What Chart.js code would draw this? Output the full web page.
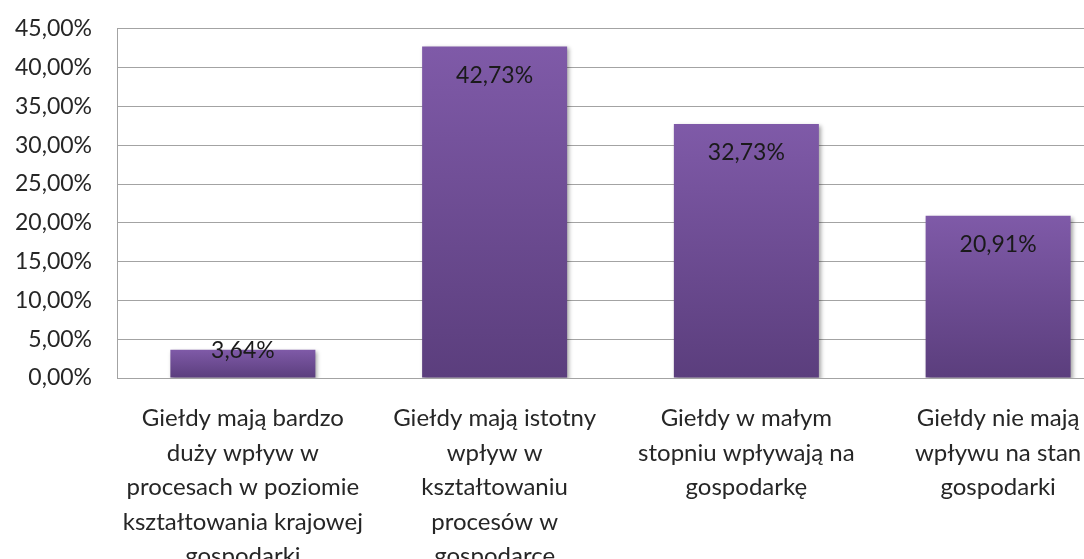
<!DOCTYPE html>
<html>
<head>
<meta charset="utf-8">
<script src="https://cdn.jsdelivr.net/npm/chart.js@4"></script>
<style>
    html, body { margin: 0; padding: 0; background: #fff; overflow: hidden; }
    #wrap { width: 1130px; height: 620px; margin-top: -10px; }
</style>
</head>
<body>
<div id="wrap"><canvas id="chart"></canvas></div>
<script>
// Categories (x axis), one array per wrapped label
const categories = [
    ['Giełdy mają bardzo', 'duży wpływ w', 'procesach w poziomie', 'kształtowania krajowej', 'gospodarki'],
    ['Giełdy mają istotny', 'wpływ w', 'kształtowaniu', 'procesów w', 'gospodarce'],
    ['Giełdy w małym', 'stopniu wpływają na', 'gospodarkę'],
    ['Giełdy nie mają', 'wpływu na stan', 'gospodarki']
];
// Share of answers in percent
const shares = [3.64, 42.73, 32.73, 20.91];
// Y axis range
const yMin = 0;
const yMax = 45;
const yStep = 5;

const FONT = 'Lato, "Liberation Sans", sans-serif';
const TEXT = '#262626';

function pl(v) {
    return v.toFixed(2).replace('.', ',') + '%';
}

// Purple gradient, light at the top of each bar and darker at its base
function barFill(ctx) {
    const chart = ctx.chart;
    if (!chart.chartArea || ctx.type !== 'data') return '#6e4f96';
    const y = chart.scales.y;
    const top = y.getPixelForValue(ctx.raw);
    const base = y.getPixelForValue(0);
    const g = chart.ctx.createLinearGradient(0, top, 0, base);
    g.addColorStop(0, '#7f5aa8');
    g.addColorStop(1, '#5b3e7d');
    return g;
}

// Soft shadow behind the bars
const barShadow = {
    id: 'barShadow',
    beforeDatasetsDraw(chart) {
        const c = chart.ctx;
        c.save();
        c.shadowColor = 'rgba(0,0,0,0.35)';
        c.shadowBlur = 4;
        c.shadowOffsetX = 2;
        c.shadowOffsetY = 2;
    },
    afterDatasetsDraw(chart) {
        chart.ctx.restore();
    }
};

// Value labels near the top inside each bar
const valueLabels = {
    id: 'valueLabels',
    afterDatasetsDraw(chart) {
        const c = chart.ctx;
        const meta = chart.getDatasetMeta(0);
        c.save();
        c.font = '23px ' + FONT;
        c.fillStyle = '#1a1a1a';
        c.textAlign = 'center';
        c.textBaseline = 'middle';
        meta.data.forEach((bar, i) => {
            const h = bar.base - bar.y;
            const ty = h > 40 ? bar.y + 29 : bar.y + 1;
            c.fillText(pl(shares[i]), bar.x, ty);
        });
        c.restore();
    }
};

new Chart(document.getElementById('chart'), {
    type: 'bar',
    data: {
        labels: categories,
        datasets: [{
            data: shares,
            backgroundColor: barFill,
            borderWidth: 0,
            categoryPercentage: 1,
            barPercentage: 0.576
        }]
    },
    options: {
        responsive: true,
        maintainAspectRatio: false,
        animation: false,
        events: [],
        layout: { padding: { top: 18, left: 0, right: 6, bottom: 0 } },
        plugins: {
            legend: { display: false },
            tooltip: { enabled: false }
        },
        scales: {
            y: {
                min: yMin,
                max: yMax,
                afterFit(s) { s.width = 117; },
                ticks: {
                    stepSize: yStep,
                    padding: 25,
                    color: TEXT,
                    font: { family: FONT, size: 23 },
                    callback: v => pl(v)
                },
                grid: { color: '#a3a3a3', lineWidth: 1, drawTicks: false },
                border: { color: '#a3a3a3', width: 1 }
            },
            x: {
                afterFit(s) { s.height = 232; },
                ticks: {
                    padding: 23,
                    color: TEXT,
                    maxRotation: 0,
                    autoSkip: false,
                    font: { family: FONT, size: 24, lineHeight: 1.44 }
                },
                grid: { display: false, drawTicks: false },
                border: { color: '#a3a3a3', width: 1 }
            }
        }
    },
    plugins: [barShadow, valueLabels]
});
</script>
</body>
</html>
